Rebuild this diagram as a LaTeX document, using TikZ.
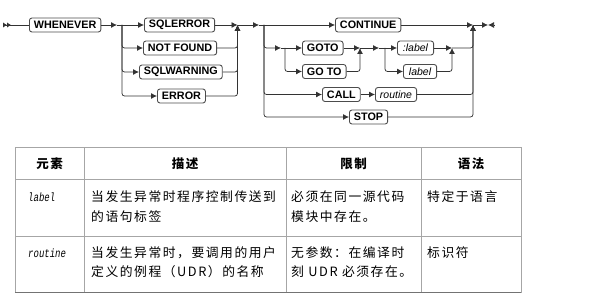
\documentclass[tikz,border=0pt]{standalone}
\usepackage{fontspec}
\setsansfont{Liberation Sans}
\newfontfamily\argfont[FakeStretch=0.75]{Liberation Mono}
\newfontfamily\cjk[LetterSpace=12]{Noto Sans CJK SC}
\usetikzlibrary{arrows.meta}

\tikzset{
  kw/.style={draw=black!70,rounded corners=2.5pt,line width=0.9pt,anchor=west,
    inner xsep=4.5pt,inner ysep=0pt,minimum height=14pt,
    font=\sffamily\bfseries\fontsize{10.8}{12}\selectfont},
  var/.style={kw,inner xsep=5.5pt,font=\sffamily\itshape\fontsize{10.5}{12}\selectfont},
  rr/.style={draw=black!80,line width=0.75pt,rounded corners=2.5pt},
  arr/.style={rr,-{Latex[length=6pt,width=6pt]}},
  grid/.style={draw=black!35,line width=0.6pt},
  head/.style={font=\cjk\bfseries\fontsize{12.5}{14}\selectfont},
  cell/.style={anchor=west,inner sep=0pt,font=\cjk\fontsize{12.8}{14}\selectfont},
  arg/.style={anchor=west,inner sep=0pt,font=\argfont\itshape\fontsize{12}{12}\selectfont}
}

\begin{document}
\begin{tikzpicture}[x=1pt,y=-1pt]
  \useasboundingbox (0,0) rectangle (594,302);
  % keyword boxes
  \node[kw] (whenever) at (29,25) {WHENEVER};
  \node[kw] (sqlerror) at (144,25) {SQLERROR};
  \node[kw] (notfound) at (143,48) {NOT FOUND};
  \node[kw] (sqlwarning) at (139,72) {SQLWARNING};
  \node[kw] (error) at (157,96) {ERROR};
  \node[kw] (continue) at (335,25) {CONTINUE};
  \node[kw] (goto) at (302,48) {GOTO};
  \node[kw] (goto2) at (302,71.5) {GO TO};
  \node[var] (lab1) at (397,48) {:label};
  \node[var] (lab2) at (403,71.5) {label};
  \node[kw] (call) at (322,94.5) {CALL};
  \node[var,inner xsep=4.5pt] (routine) at (375,94.5) {routine};
  \node[kw] (stop) at (349,117) {STOP};
  % branch and join points
  \coordinate (start) at (3,25); \coordinate (s2) at (11,25);
  \coordinate (m1) at (117,25); \coordinate (b1) at (122,25);
  \coordinate (j1) at (237.5,25);
  \coordinate (m2) at (259,25); \coordinate (b2) at (264,25);
  \coordinate (m3) at (281,48); \coordinate (b3) at (285,48);
  \coordinate (j2) at (360,48);
  \coordinate (m4) at (379,48); \coordinate (b4) at (385,48);
  \coordinate (j3) at (452,48);
  \coordinate (j5) at (473,25);
  \coordinate (e1) at (488,25); \coordinate (e2) at (494,25);
  % start
  \draw[rr] (start) -- (whenever.west);
  \draw[rr,-{Latex[length=4pt,width=5.5pt]Latex[length=4pt,width=5.5pt]}] (start) -- (s2);
  % condition
  \draw[arr] (whenever.east) -- (m1);
  \draw[arr] (m1) -- (sqlerror.west);
  \draw[arr] (b1) |- (notfound.west);
  \draw[arr] (b1) |- (sqlwarning.west);
  \draw[arr] (b1) |- (error.west);
  \draw[arr] (sqlerror.east) -- (j1);
  \draw[arr] (notfound.east) -| (j1);
  \draw[arr] (sqlwarning.east) -| (j1);
  \draw[arr] (error.east) -| (j1);
  % action
  \draw[arr] (j1) -- (m2);
  \draw[arr] (m2) -- (continue.west);
  \draw[arr] (b2) |- (m3);
  \draw[arr] (m3) -- (goto.west);
  \draw[arr] (b3) |- (goto2.west);
  \draw[arr] (b2) |- (call.west);
  \draw[arr] (b2) |- (stop.west);
  \draw[arr] (goto.east) -- (j2);
  \draw[arr] (goto2.east) -| (j2);
  \draw[arr] (j2) -- (m4);
  \draw[arr] (m4) -- (lab1.west);
  \draw[arr] (b4) |- (lab2.west);
  \draw[arr] (lab1.east) -- (j3);
  \draw[arr] (lab2.east) -| (j3);
  \draw[arr] (j3) -| (j5);
  \draw[arr] (call.east) -- (routine.west);
  \draw[arr] (continue.east) -- (j5);
  \draw[arr] (routine.east) -| (j5);
  \draw[arr] (stop.east) -| (j5);
  % end
  \draw[arr] (j5) -- (e1);
  \draw[rr,-{Latex[length=6pt,width=6pt]}] (e2) -- (e1);

  % table
  \draw[grid] (15,147) rectangle (521,292);
  \draw[grid] (15,179) -- (521,179);
  \draw[grid] (15,236) -- (521,236);
  \foreach \x in {84,286,421} \draw[grid] (\x,147) -- (\x,292);
  \draw[draw=black!55,line width=0.7pt] (15,292) -- (521,292);
  \node[head] (h1) at (49.5,164) {元素};
  \node[head] (h2) at (185,164) {描述};
  \node[head] (h3) at (353.5,164) {限制};
  \node[head] (h4) at (471,164) {语法};
  \node[arg] (a1) at (28,197) {label};
  \node[cell] (d1a) at (91,197) {当发生异常时程序控制传送到};
  \node[cell] (d1b) at (91,217) {的语句标签};
  \node[cell] (r1a) at (291,197) {必须在同一源代码};
  \node[cell] (r1b) at (291,217) {模块中存在。};
  \node[cell] (g1) at (427,197) {特定于语言};
  \node[arg] (a2) at (28,253) {routine};
  \node[cell] (d2a) at (91,253) {当发生异常时，要调用的用户};
  \node[cell] (d2b) at (91,272) {定义的例程（UDR）的名称};
  \node[cell] (r2a) at (291,253) {无参数：在编译时};
  \node[cell] (r2b) at (291,272) {刻 UDR 必须存在。};
  \node[cell] (g2) at (427,253) {标识符};
\end{tikzpicture}
\end{document}
